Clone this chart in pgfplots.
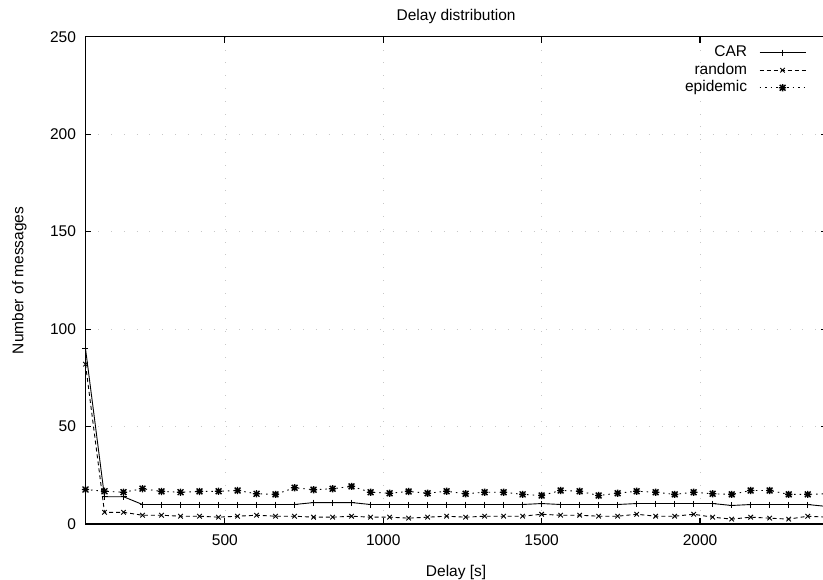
\documentclass[border=0pt]{standalone}
\usepackage{fontspec}
\setmainfont{Liberation Sans}
\usepackage{pgfplots}
\pgfplotsset{compat=1.18}
\newcommand\fs{\fontsize{15.5bp}{17bp}\selectfont}
\pgfdeclareplotmark{plusx}{%
  \pgfpathmoveto{\pgfqpoint{-\pgfplotmarksize}{0pt}}\pgfpathlineto{\pgfqpoint{\pgfplotmarksize}{0pt}}%
  \pgfpathmoveto{\pgfqpoint{0pt}{-\pgfplotmarksize}}\pgfpathlineto{\pgfqpoint{0pt}{\pgfplotmarksize}}%
  \pgfpathmoveto{\pgfqpoint{-.8\pgfplotmarksize}{-.8\pgfplotmarksize}}\pgfpathlineto{\pgfqpoint{.8\pgfplotmarksize}{.8\pgfplotmarksize}}%
  \pgfpathmoveto{\pgfqpoint{-.8\pgfplotmarksize}{.8\pgfplotmarksize}}\pgfpathlineto{\pgfqpoint{.8\pgfplotmarksize}{-.8\pgfplotmarksize}}%
  \pgfusepathqstroke}
\pgfplotstableread{
x car random epidemic
60 90 82 17.7
120 14 6 16.8
180 14 6 16.3
240 10 4.5 18.1
300 10 4.5 16.7
360 10 4 16.3
420 10 4 16.7
480 10 3.5 16.8
540 10 4 17.2
600 10 4.5 15.5
660 10 4 15.2
720 10 4 18.6
780 11 3.5 17.6
840 11 3.5 18.1
900 11 4 19.3
960 10 3.5 16.3
1020 10 3.5 15.8
1080 10 3 16.7
1140 10 3.5 15.8
1200 10 4 16.8
1260 10 3.5 15.5
1320 10 4 16.3
1380 10 4 16.3
1440 10 4 15.2
1500 10.5 5 14.6
1560 10 4.5 17.2
1620 10 4.5 16.8
1680 10 4 14.6
1740 10 4 15.8
1800 10.5 5 16.8
1860 10.5 4 16.3
1920 10.5 4 15.2
1980 10.5 5 16.3
2040 10.5 3.5 15.5
2100 9.5 2.5 15.2
2160 10 3.5 17.2
2220 10 3 17.2
2280 10 2.5 15.2
2340 10 4 15.2
2400 9 3.5 15.5
}\datatable
\begin{document}
\begin{tikzpicture}
\begin{axis}[
  scale only axis, width=741.2bp, height=487.3bp,
  xmin=60, xmax=2400, ymin=0, ymax=250,
  xtick={500,1000,1500,2000}, ytick={0,50,100,150,200,250},
  tick align=inside, xtick pos=both, ytick pos=both,
  major tick length=6bp,
  tick style={line width=1.1bp, black},
  axis line style={line width=1.6bp},
  grid=major,
  major grid style={black!22, line width=0.6bp, dash pattern=on 0.8bp off 12bp},
  /pgf/number format/assume math mode=true,
  /pgf/number format/set thousands separator={},
  ticklabel style={font=\fs},
  yticklabel style={xshift=-6bp},
  xticklabel style={yshift=-7.4bp},
  title={Delay distribution},
  title style={font=\fs, at={(rel axis cs:0.5,1)}, anchor=base, yshift=10.7bp},
  xlabel={Delay [s]},
  xlabel style={font=\fs, at={(rel axis cs:0.5,0)}, anchor=base, yshift=-52.5bp},
  ylabel={Number of messages},
  ylabel style={font=\fs, at={(rel axis cs:0,0.5)}, anchor=base, yshift=62.2bp},
  clip=false,
  legend cell align=right,
  legend plot pos=right,
  legend image code/.code={\draw[mark repeat=2,mark phase=2,#1] plot coordinates {(0bp,0bp)(23bp,0bp)(46bp,0bp)};},
  legend style={at={(rel axis cs:1,1)}, anchor=north east, xshift=-20.7bp, yshift=-7.3bp,
    draw=none, fill=none, inner sep=0pt, outer sep=0pt, font=\fs,
    column sep=12bp, row sep=0pt,
    nodes={inner xsep=0pt, inner ysep=1bp, text height=12bp, text depth=3.5bp}},
]
\addplot[black, line width=0.9bp, mark=+, mark size=3bp, mark options={solid}] table[x=x, y=car] {\datatable};
\addlegendentry{CAR}
\addplot[black, line width=0.9bp, dash pattern=on 4bp off 3bp, mark=x, mark size=3.2bp, mark options={solid}] table[x=x, y=random] {\datatable};
\addlegendentry{random}
\addplot[black, line width=0.9bp, dash pattern=on 1.5bp off 4bp, mark=plusx, mark size=3.6bp, mark options={solid, line width=1.4bp}] table[x=x, y=epidemic] {\datatable};
\addlegendentry{epidemic}
\coordinate (sw) at (rel axis cs:0,0);
\coordinate (ne) at (rel axis cs:1,1);
\end{axis}
\pgfresetboundingbox
\path[use as bounding box] ([shift={(-85.5bp,-56bp)}]sw) rectangle ([shift={(-3.7bp,36.7bp)}]ne);
\end{tikzpicture}
\end{document}
